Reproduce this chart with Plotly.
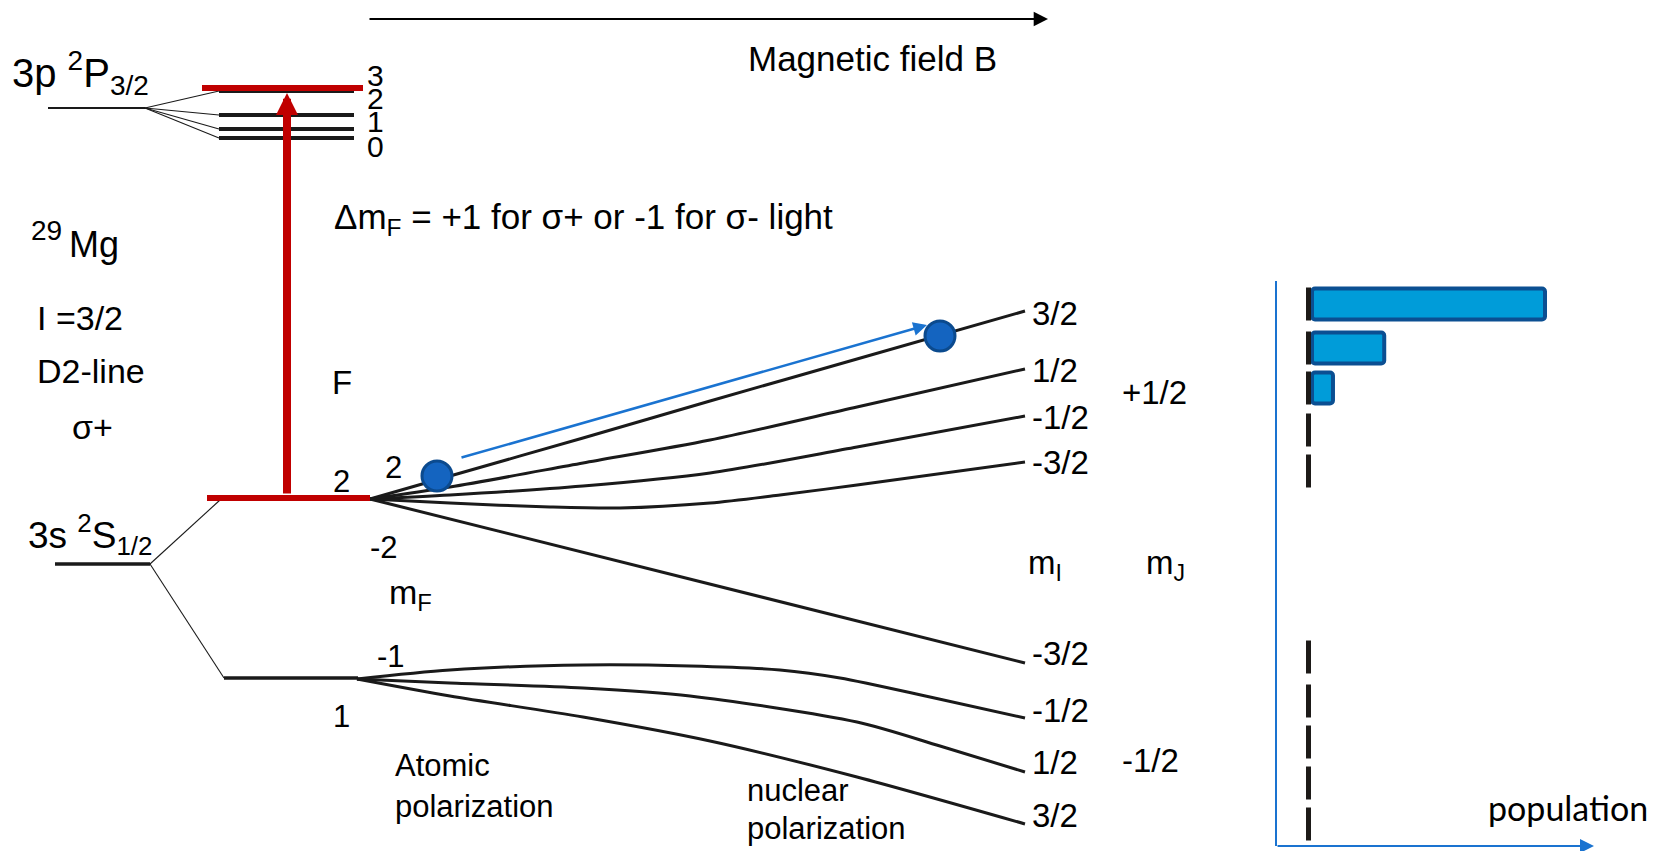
import plotly.graph_objects as go

W, H = 1664, 851
FONT = "Liberation Sans, Arial, Helvetica, sans-serif"
INK = "#1a1a1a"
RED = "#C00000"
BLUE = "#1A73D0"
BAR_FILL = "#009CD9"
BAR_EDGE = "#0B4F92"
DOT_FILL = "#1464C0"
DOT_EDGE = "#0B4A8E"

# ---------------- data (diagram coordinates: x = field / position, y = energy, downwards) ----
# 3p 2P3/2 fine-structure level and its hyperfine levels F' = 3, 2, 1, 0
p_fs_x = [48, 145]
p_fs_y = 108
p_hf_x = [219, 354]
p_hf_y = [91, 115, 129, 138]
p_hf_names = ["3", "2", "1", "0"]
p_hf_name_y = [75, 98, 121, 146]
p_pumped_x = [202, 363]
p_pumped_y = 88

# 3s 2S1/2 fine-structure level and hyperfine levels F = 2 (pumped, red) and F = 1
s_fs_x = [55, 150]
s_fs_y = 564
s_f2_x = [207, 370]
s_f2_y = 498
s_f1_x = [224, 358]
s_f1_y = 678
s_fan_end_x = [220, 224]
s_fan_end_y = [500, 678]

# Breit-Rabi fan, F = 2 branch (B grid, energies)
f2_B_32 = [370, 450, 583, 710, 857, 1025]
f2_E_32 = [499, 476, 438, 401, 359, 311]
f2_B_12 = [370, 450, 583, 710, 857, 1025]
f2_E_12 = [499, 487, 463, 440, 407, 369]
f2_B_m12 = [370, 450, 583, 710, 857, 1025]
f2_E_m12 = [499, 495, 486, 473, 447, 416]
f2_B_m32 = [370, 450, 550, 620, 710, 780, 857, 1025]
f2_E_m32 = [499, 503, 507, 508, 503, 495, 485, 462]
f2_B_down = [370, 1025]
f2_E_down = [499, 663]

# Breit-Rabi fan, F = 1 branch
f1_B_m12 = [357, 450, 583, 690, 780, 840, 930, 1025]
f1_E_m12 = [679, 670, 665, 666, 670, 678, 697, 718]
f1_B_12 = [357, 450, 583, 690, 857, 940, 1025]
f1_E_12 = [679, 683, 688, 696, 722, 746, 772]
f1_B_32 = [357, 450, 583, 710, 857, 1025]
f1_E_32 = [679, 696, 717, 741, 777, 824]

# atoms being pumped
atom_B = [437, 940]
atom_E = [476, 336]

# arrows: (tail, tip)
field_arrow = [(368, 19), (1048, 19)]
pump_arrow = [(287, 495), (287, 93)]
transfer_arrow = [(460, 458), (927, 325)]
pop_axis_x = 1276
pop_axis_y = [281, 846]
pop_arrow = [(1276, 846), (1594, 846)]

# population histogram (relative), one row per high-field state
pop_rows = [304, 348, 388, 430, 471, 657, 701, 742, 783, 824]
population = [1.0, 0.31, 0.09, 0, 0, 0, 0, 0, 0, 0]

# labels: high-field m_I labels
mi_labels_upper = ["3/2", "1/2", "-1/2", "-3/2"]
mi_labels_upper_y = [313, 370, 417, 462]
mi_labels_lower = ["-3/2", "-1/2", "1/2", "3/2"]
mi_labels_lower_y = [653, 710, 762, 815]

# ---------------- figure ----------------
fig = go.Figure()


def line(x, y, color=INK, width=3, shape="linear", xaxis="x"):
    fig.add_trace(go.Scatter(x=x, y=y, mode="lines", xaxis=xaxis,
                             line=dict(color=color, width=width, shape=shape, smoothing=0.8),
                             hoverinfo="skip", showlegend=False))


# 3p manifold
line(p_fs_x, [p_fs_y, p_fs_y], width=2)
for yy in p_hf_y:
    line([p_fs_x[1], p_hf_x[0]], [p_fs_y, yy], width=1.1)
    line(p_hf_x, [yy, yy], width=4)
line(p_pumped_x, [p_pumped_y, p_pumped_y], color=RED, width=6)

# 3s manifold
line(s_fs_x, [s_fs_y, s_fs_y], width=3.5)
for xe, ye in zip(s_fan_end_x, s_fan_end_y):
    line([s_fs_x[1], xe], [s_fs_y, ye], width=1.1)
line(s_f1_x, [s_f1_y, s_f1_y], width=3.5)

# fans
for bx, ey in [(f2_B_32, f2_E_32), (f2_B_12, f2_E_12), (f2_B_m12, f2_E_m12),
               (f2_B_m32, f2_E_m32), (f2_B_down, f2_E_down),
               (f1_B_m12, f1_E_m12), (f1_B_12, f1_E_12), (f1_B_32, f1_E_32)]:
    line(bx, ey, width=3, shape="spline")

line(s_f2_x, [s_f2_y, s_f2_y], color=RED, width=6)

# atoms
fig.add_trace(go.Scatter(x=atom_B, y=atom_E, mode="markers",
                         marker=dict(size=30, color=DOT_FILL, line=dict(color=DOT_EDGE, width=3)),
                         hoverinfo="skip", showlegend=False))

# population panel
line([pop_axis_x, pop_axis_x], pop_axis_y, color=BLUE, width=2)
dash_x, dash_y = [], []
for r in pop_rows:
    dash_x += [-0.015, -0.015, None]
    dash_y += [r - 16.5, r + 16.5, None]
fig.add_trace(go.Scatter(x=dash_x, y=dash_y, mode="lines", xaxis="x2",
                         line=dict(color="#1d1a18", width=5), hoverinfo="skip", showlegend=False))
nz = [i for i, v in enumerate(population) if v > 0]
fig.add_trace(go.Bar(x=[population[i] for i in nz], y=[pop_rows[i] for i in nz],
                     base=0, orientation="h", width=31, xaxis="x2",
                     marker=dict(color=BAR_FILL, line=dict(color=BAR_EDGE, width=4)),
                     hoverinfo="skip", showlegend=False))

ann = []


def text(t, x, y, size=33, xanchor="left", family=FONT, color="black"):
    ann.append(dict(text=t, x=x, y=y, xref="x", yref="y", xanchor=xanchor, yanchor="middle",
                    showarrow=False, font=dict(family=family, size=size, color=color)))


def arrow(tail, tip, color, width, size):
    ann.append(dict(text="", x=tip[0], y=tip[1], ax=tail[0], ay=tail[1],
                    xref="x", yref="y", axref="x", ayref="y", showarrow=True,
                    arrowhead=2, arrowsize=size, arrowwidth=width, arrowcolor=color, standoff=0))


arrow(*field_arrow, color="black", width=2.2, size=1.3)
arrow(*pump_arrow, color=RED, width=8, size=0.55)
arrow(*transfer_arrow, color=BLUE, width=2.5, size=1.1)
arrow(*pop_arrow, color=BLUE, width=2, size=1.4)

text("Magnetic field B", 746, 58, 35)
text("Δm<sub>F</sub> = +1 for σ+ or -1 for σ- light", 332, 219, 35)
text("3p <sup>2</sup>P<sub>3/2</sub>", 10, 73, 40)
for name, yy in zip(p_hf_names, p_hf_name_y):
    text(name, 375, yy, 30, xanchor="center")
text("29", 29, 230, 28)
text("Mg", 67, 244, 36)
text("I =3/2", 35, 318, 34)
text("D2-line", 35, 371, 34)
text("σ+", 70, 427, 34)
text("3s <sup>2</sup>S<sub>1/2</sub>", 26, 534, 37)
text("F", 342, 382, 33, xanchor="center")
text("2", 341, 481, 31, xanchor="center")
text("1", 341, 716, 31, xanchor="center")
text("2", 393, 467, 31, xanchor="center")
text("-2", 384, 547, 31, xanchor="center")
text("-1", 391, 656, 31, xanchor="center")
text("m<sub>F</sub>", 387, 594, 34)
text("Atomic", 393, 765, 31)
text("polarization", 393, 806, 31)
text("nuclear", 745, 790, 31)
text("polarization", 745, 828, 31)
for t, yy in zip(mi_labels_upper, mi_labels_upper_y):
    text(t, 1030, yy, 33)
for t, yy in zip(mi_labels_lower, mi_labels_lower_y):
    text(t, 1030, yy, 33)
text("+1/2", 1120, 392, 33)
text("-1/2", 1120, 760, 33)
text("m<sub>I</sub>", 1026, 565, 33)
text("m<sub>J</sub>", 1144, 565, 33)
text("population", 1486, 807, 34, family="Lato, Open Sans, sans-serif")

# population axis scale: 0 -> left edge of bars, 1 -> right edge of largest bar
pop_px0, pop_px1 = 1312, 1545
span = W / (pop_px1 - pop_px0)
x2_range = [-pop_px0 / (pop_px1 - pop_px0), -pop_px0 / (pop_px1 - pop_px0) + span]

fig.update_layout(
    width=W, height=H, margin=dict(l=0, r=0, t=0, b=0),
    paper_bgcolor="white", plot_bgcolor="white", showlegend=False,
    barcornerradius=3,
    xaxis=dict(range=[0, W], visible=False, fixedrange=True),
    xaxis2=dict(range=x2_range, overlaying="x", anchor="y", visible=False, fixedrange=True),
    yaxis=dict(range=[H, 0], visible=False, fixedrange=True),
    annotations=ann,
)

fig.write_html("out.html", post_script="document.body.style.margin='0px';")
